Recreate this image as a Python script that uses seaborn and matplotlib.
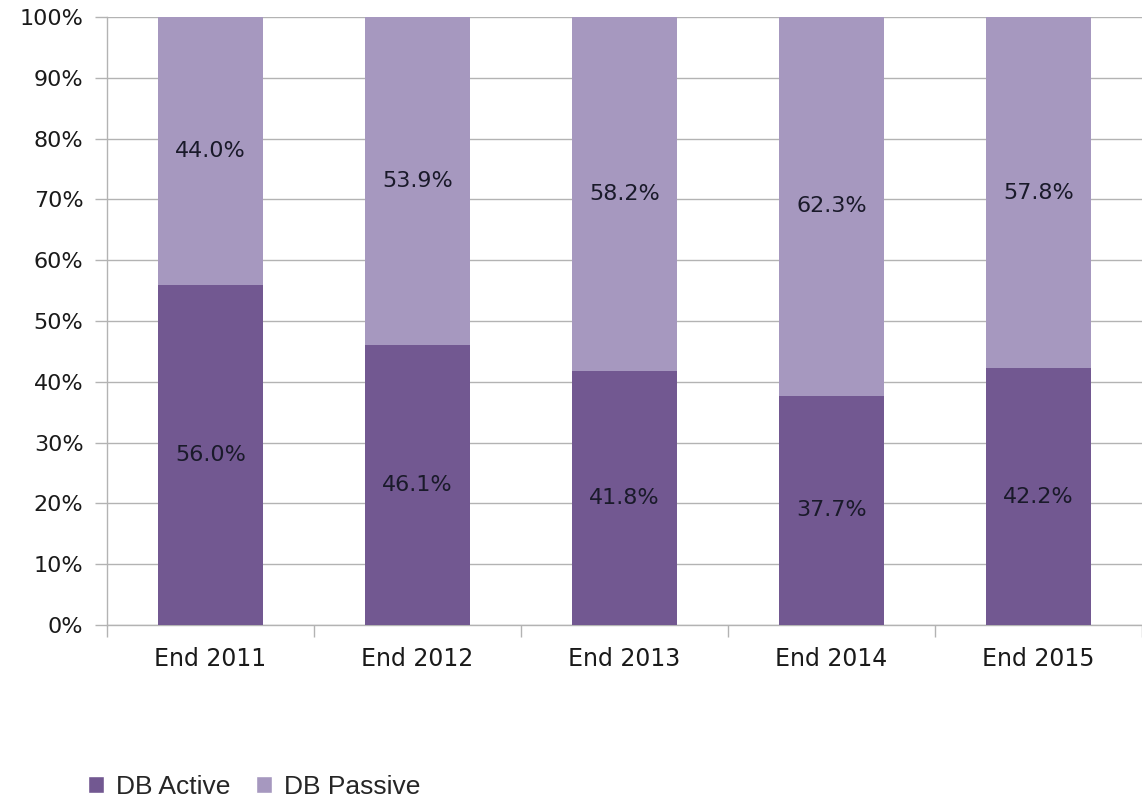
import matplotlib.pyplot as plt
import seaborn as sns
import numpy as np
from matplotlib.patches import Patch
from matplotlib.ticker import FuncFormatter

years = ["End 2011", "End 2012", "End 2013", "End 2014", "End 2015"]
db_active = [56.0, 46.1, 41.8, 37.7, 42.2]
db_passive = [44.0, 53.9, 58.2, 62.3, 57.8]

ACTIVE_COLOR = "#725891"
PASSIVE_COLOR = "#a698bf"
GRID_COLOR = "#b3b3b3"

sns.set_theme(style="white")
plt.rcParams['font.family'] = ['DejaVu Sans']

fig = plt.figure(figsize=(11.42, 7.98), dpi=100)
ax = fig.add_axes([107 / 1142, 1 - 625 / 798, (1142 - 107) / 1142, (625 - 17) / 798])

totals = [a + p for a, p in zip(db_active, db_passive)]
sns.barplot(x=years, y=totals, color=PASSIVE_COLOR, width=0.505, saturation=1, ax=ax,
            linewidth=0, edgecolor='none', zorder=2)
sns.barplot(x=years, y=db_active, color=ACTIVE_COLOR, width=0.505, saturation=1, ax=ax,
            linewidth=0, edgecolor='none', zorder=3)

for i, (a, p) in enumerate(zip(db_active, db_passive)):
    ax.text(i, a / 2, f"{a:.1f}%", ha='center', va='center', fontsize=16, color='#1a1a2a', zorder=4)
    ax.text(i, a + p / 2, f"{p:.1f}%", ha='center', va='center', fontsize=16, color='#1a1a2a', zorder=4)

ax.set_ylim(0, 100)
ax.set_xlim(-0.5, 4.5)
ax.set_yticks(np.arange(0, 101, 10))
ax.yaxis.set_major_formatter(FuncFormatter(lambda v, _: f"{v:.0f}%"))
ax.tick_params(axis='y', labelsize=16, length=8.5, color=GRID_COLOR, width=1, left=True, pad=8.5,
               labelcolor='#1a1a1a')
ax.tick_params(axis='x', labelsize=17, length=0, pad=16, labelcolor='#1a1a1a')
ax.set_xticks(range(len(years)))
ax.set_xticks(np.arange(-0.5, 5, 1), minor=True)
ax.tick_params(axis='x', which='minor', length=8.5, color=GRID_COLOR, width=1, bottom=True)

ax.yaxis.grid(True, color=GRID_COLOR, linewidth=1, zorder=0)
ax.set_axisbelow(True)
ax.set_xlabel("")
ax.set_ylabel("")
for side in ['top', 'right']:
    ax.spines[side].set_visible(False)
for side in ['left', 'bottom']:
    ax.spines[side].set_color(GRID_COLOR)
    ax.spines[side].set_linewidth(1)

handles = [Patch(facecolor=ACTIVE_COLOR, label="DB Active"),
           Patch(facecolor=PASSIVE_COLOR, label="DB Passive")]
fig.legend(handles=handles, loc='center left', bbox_to_anchor=(88 / 1142, 11 / 798), ncol=2,
           frameon=False, handlelength=0.62, handleheight=0.62, borderpad=0, borderaxespad=0,
           handletextpad=0.45, columnspacing=0.95, prop={'family': 'Liberation Sans', 'size': 19})

plt.savefig("out.png", dpi=100)
